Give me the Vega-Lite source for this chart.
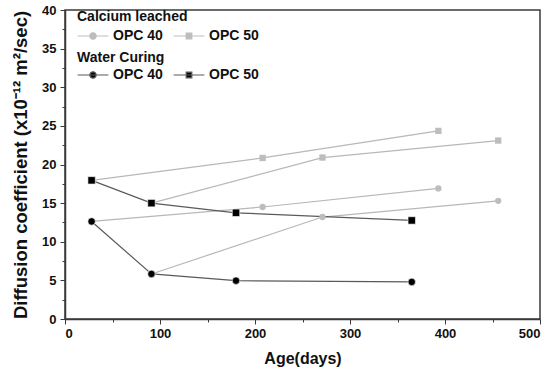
{
  "$schema": "https://vega.github.io/schema/vega-lite/v6.json",
  "width": 475,
  "height": 309,
  "autosize": {"type": "none"},
  "padding": {"left": 65, "top": 10, "right": 11, "bottom": 54},
  "background": "white",
  "config": {
    "font": "Liberation Sans",
    "view": {"stroke": "#3a3a3a", "strokeWidth": 1.5},
    "axis": {
      "grid": false,
      "domainColor": "#3a3a3a",
      "domainWidth": 1.5,
      "tickColor": "#3a3a3a",
      "tickWidth": 1,
      "labelFont": "Liberation Sans",
      "labelFontWeight": "bold",
      "labelFontSize": 13,
      "labelColor": "#111",
      "titleFont": "Liberation Sans",
      "titleFontWeight": "bold",
      "titleColor": "#111",
      "labelOverlap": false
    },
    "legend": {
      "titleFont": "Liberation Sans",
      "titleFontSize": 14,
      "titleFontWeight": "bold",
      "titleColor": "#111",
      "labelFont": "Liberation Sans",
      "labelFontSize": 14,
      "labelFontWeight": "bold",
      "labelColor": "#111",
      "padding": 0,
      "offset": 0
    }
  },
  "data": {
    "values": [
      {"day": 28, "d": 12.63, "curing": "Water Curing", "mix": "OPC 40", "series": "W40"},
      {"day": 91, "d": 5.83, "curing": "Water Curing", "mix": "OPC 40", "series": "W40"},
      {"day": 180, "d": 4.96, "curing": "Water Curing", "mix": "OPC 40", "series": "W40"},
      {"day": 365, "d": 4.8, "curing": "Water Curing", "mix": "OPC 40", "series": "W40"},
      {"day": 28, "d": 17.95, "curing": "Water Curing", "mix": "OPC 50", "series": "W50"},
      {"day": 91, "d": 15.0, "curing": "Water Curing", "mix": "OPC 50", "series": "W50"},
      {"day": 180, "d": 13.75, "curing": "Water Curing", "mix": "OPC 50", "series": "W50"},
      {"day": 365, "d": 12.76, "curing": "Water Curing", "mix": "OPC 50", "series": "W50"},
      {"day": 28, "d": 12.63, "curing": "Calcium leached", "mix": "OPC 40", "series": "L40a"},
      {"day": 208, "d": 14.5, "curing": "Calcium leached", "mix": "OPC 40", "series": "L40a"},
      {"day": 393, "d": 16.9, "curing": "Calcium leached", "mix": "OPC 40", "series": "L40a"},
      {"day": 91, "d": 5.83, "curing": "Calcium leached", "mix": "OPC 40", "series": "L40b"},
      {"day": 271, "d": 13.2, "curing": "Calcium leached", "mix": "OPC 40", "series": "L40b"},
      {"day": 456, "d": 15.3, "curing": "Calcium leached", "mix": "OPC 40", "series": "L40b"},
      {"day": 28, "d": 17.95, "curing": "Calcium leached", "mix": "OPC 50", "series": "L50a"},
      {"day": 208, "d": 20.85, "curing": "Calcium leached", "mix": "OPC 50", "series": "L50a"},
      {"day": 393, "d": 24.35, "curing": "Calcium leached", "mix": "OPC 50", "series": "L50a"},
      {"day": 91, "d": 15.0, "curing": "Calcium leached", "mix": "OPC 50", "series": "L50b"},
      {"day": 271, "d": 20.9, "curing": "Calcium leached", "mix": "OPC 50", "series": "L50b"},
      {"day": 456, "d": 23.1, "curing": "Calcium leached", "mix": "OPC 50", "series": "L50b"}
    ]
  },
  "encoding": {
    "x": {
      "field": "day",
      "type": "quantitative",
      "scale": {"domain": [0, 500], "nice": false, "zero": false},
      "axis": {
        "title": "Age(days)",
        "titleFontSize": 16,
        "titlePadding": 10,
        "values": [0, 50, 100, 150, 200, 250, 300, 350, 400, 450, 500],
        "labelExpr": "datum.value % 100 === 0 ? datum.label : ''",
        "tickSize": {"condition": {"test": "datum.value % 100 === 0", "value": 5}, "value": 3},
        "labelPadding": 3
      }
    },
    "y": {
      "field": "d",
      "type": "quantitative",
      "scale": {"domain": [0, 40], "nice": false},
      "axis": {
        "title": "Diffusion coefficient (x10⁻¹² m²/sec)",
        "titleFontSize": 18.5,
        "titlePadding": 11,
        "values": [0, 2.5, 5, 7.5, 10, 12.5, 15, 17.5, 20, 22.5, 25, 27.5, 30, 32.5, 35, 37.5, 40],
        "labelExpr": "datum.value % 5 === 0 ? datum.label : ''",
        "tickSize": {"condition": {"test": "datum.value % 5 === 0", "value": 5}, "value": 3},
        "labelPadding": 4
      }
    }
  },
  "layer": [
    {
      "transform": [{"filter": "datum.curing === 'Calcium leached'"}],
      "mark": {"type": "line", "color": "#b8b8b8", "strokeWidth": 1.2},
      "encoding": {"detail": {"field": "series"}}
    },
    {
      "transform": [{"filter": "datum.curing === 'Water Curing'"}],
      "mark": {"type": "line", "color": "#5a5a5a", "strokeWidth": 1.2},
      "encoding": {"detail": {"field": "series"}}
    },
    {
      "transform": [{"filter": "datum.curing === 'Calcium leached'"}],
      "mark": {"type": "point", "filled": true, "color": "#bdbdbd", "opacity": 1, "size": 40},
      "encoding": {
        "shape": {
          "field": "mix",
          "type": "nominal",
          "scale": {"domain": ["OPC 40", "OPC 50"], "range": ["circle", "square"]},
          "legend": null
        }
      }
    },
    {
      "transform": [{"filter": "datum.curing === 'Water Curing'"}],
      "mark": {"type": "point", "filled": true, "color": "#000000", "opacity": 1, "size": 55, "stroke": "white", "strokeWidth": 0.6},
      "encoding": {
        "shape": {
          "field": "mix",
          "type": "nominal",
          "scale": {"domain": ["OPC 40", "OPC 50"], "range": ["circle", "square"]},
          "legend": null
        }
      }
    },
    {
      "transform": [{"filter": "false"}],
      "mark": {"type": "point", "filled": false, "color": "#bdbdbd", "fill": "#bdbdbd", "strokeWidth": 1.2, "opacity": 1},
      "encoding": {
        "shape": {
          "field": "mix",
          "type": "nominal",
          "scale": {"domain": ["OPC 40", "OPC 50"], "range": ["M-2.2,0L2.2,0M0.45,0A0.45,0.45,0,1,1,-0.45,0A0.45,0.45,0,1,1,0.45,0Z", "M-2.2,0L2.2,0M-0.4,-0.4L0.4,-0.4L0.4,0.4L-0.4,0.4Z"]},
          "legend": {
            "title": "Calcium leached",
            "orient": "none",
            "legendX": 12,
            "legendY": 0,
            "direction": "horizontal",
            "titlePadding": 4,
            "symbolSize": 196,
            "symbolStrokeWidth": 1.2,
            "symbolOffset": 8,
            "labelOffset": 12,
            "columnPadding": 8
          }
        }
      }
    },
    {
      "transform": [{"filter": "false"}],
      "mark": {"type": "point", "filled": false, "color": "#5a5a5a", "fill": "#000000", "strokeWidth": 1.2, "opacity": 1},
      "encoding": {
        "shape": {
          "field": "mix",
          "type": "nominal",
          "scale": {"domain": ["OPC 40", "OPC 50"], "range": ["M-2.2,0L2.2,0M0.45,0A0.45,0.45,0,1,1,-0.45,0A0.45,0.45,0,1,1,0.45,0Z", "M-2.2,0L2.2,0M-0.4,-0.4L0.4,-0.4L0.4,0.4L-0.4,0.4Z"]},
          "legend": {
            "title": "Water Curing",
            "orient": "none",
            "legendX": 12,
            "legendY": 41,
            "direction": "horizontal",
            "titlePadding": 2,
            "symbolSize": 196,
            "symbolStrokeWidth": 1.2,
            "symbolOffset": 8,
            "labelOffset": 12,
            "columnPadding": 8
          }
        }
      }
    }
  ],
  "resolve": {"scale": {"shape": "independent"}}
}
